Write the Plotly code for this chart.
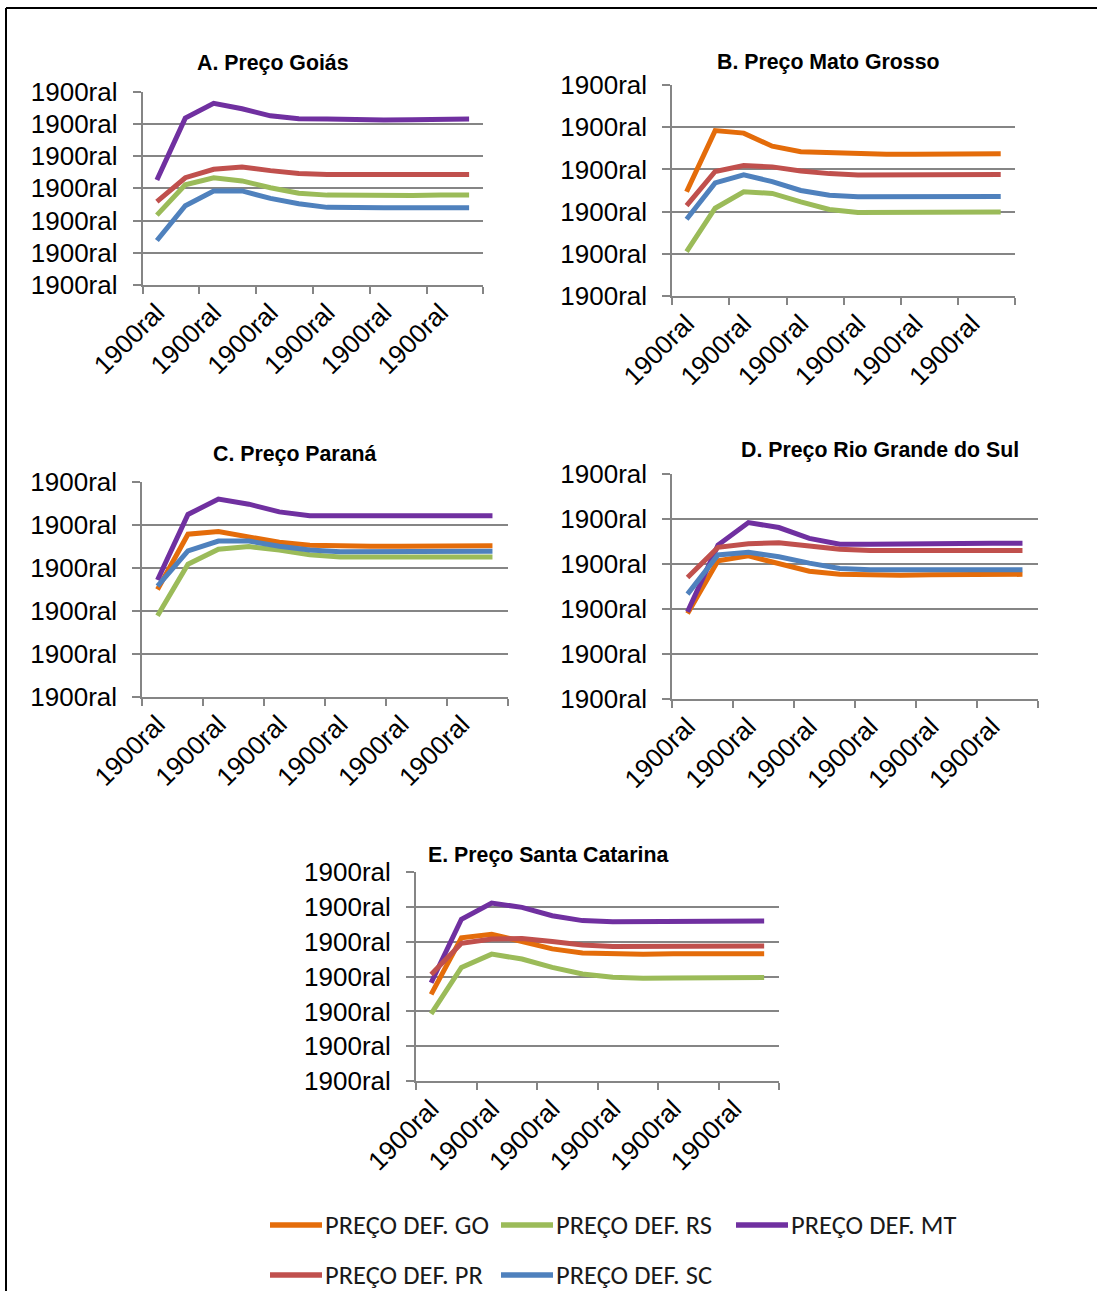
import plotly.graph_objects as go

W, H = 1100, 1291

# Twelve observations per series; the period axis labels every other one
periods = list(range(1, 13))
period_labels = ["1900ral"] * 6
period_label_pos = [1, 3, 5, 7, 9, 11]
price_label = "1900ral"

series_names = {
    "GO": "PREÇO DEF. GO",
    "RS": "PREÇO DEF. RS",
    "MT": "PREÇO DEF. MT",
    "PR": "PREÇO DEF. PR",
    "SC": "PREÇO DEF. SC",
}
series_colors = {
    "GO": "#E46C0A",
    "RS": "#9BBB59",
    "MT": "#7030A0",
    "PR": "#C0504D",
    "SC": "#4F81BD",
}

# A. Goiás
goias_rs = [21.7, 31.1, 33.3, 32.3, 30.2, 28.5, 27.9, 27.8, 27.8, 27.8, 27.9, 27.9]
goias_mt = [32.6, 51.8, 56.4, 54.7, 52.5, 51.6, 51.5, 51.2, 51.2, 51.3, 51.5, 51.5]
goias_pr = [25.9, 33.3, 35.9, 36.6, 35.5, 34.6, 34.3, 34.3, 34.3, 34.3, 34.3, 34.3]
goias_sc = [13.8, 24.6, 29.2, 29.2, 26.9, 25.2, 24.1, 23.9, 24.0, 24.0, 24.0, 24.0]

# B. Mato Grosso
mato_grosso_go = [24.7, 39.2, 38.6, 35.5, 34.2, 34.0, 33.7, 33.6, 33.6, 33.6, 33.7, 33.7]
mato_grosso_rs = [10.5, 20.8, 24.7, 24.3, 22.3, 20.5, 19.8, 19.8, 19.8, 19.9, 19.9, 19.9]
mato_grosso_pr = [21.4, 29.5, 30.9, 30.6, 29.6, 29.0, 28.7, 28.7, 28.7, 28.8, 28.8, 28.8]
mato_grosso_sc = [18.2, 26.8, 28.7, 27.1, 25.0, 23.9, 23.5, 23.5, 23.6, 23.6, 23.6, 23.6]

# C. Paraná
parana_go = [25.0, 37.9, 38.5, 37.2, 36.0, 35.3, 35.1, 35.1, 35.1, 35.2, 35.2, 35.2]
parana_rs = [18.9, 30.9, 34.4, 35.0, 34.2, 33.1, 32.6, 32.6, 32.6, 32.6, 32.6, 32.6]
parana_mt = [27.2, 42.5, 46.1, 44.9, 43.1, 42.2, 42.2, 42.2, 42.1, 42.1, 42.2, 42.2]
parana_sc = [25.8, 34.0, 36.3, 36.3, 35.1, 34.2, 33.8, 33.8, 33.8, 33.9, 33.9, 33.9]

# D. Rio Grande do Sul
rio_grande_go = [19.0, 30.7, 31.8, 30.2, 28.4, 27.7, 27.5, 27.5, 27.6, 27.7, 27.7, 27.7]
rio_grande_mt = [19.4, 34.2, 39.2, 38.1, 35.7, 34.4, 34.4, 34.5, 34.5, 34.5, 34.6, 34.6]
rio_grande_pr = [27.0, 33.7, 34.5, 34.7, 34.0, 33.3, 33.0, 33.0, 33.0, 33.0, 33.0, 33.0]
rio_grande_sc = [23.3, 32.0, 32.6, 31.6, 30.2, 29.0, 28.7, 28.7, 28.7, 28.7, 28.7, 28.7]

# E. Santa Catarina
santa_catarina_go = [24.9, 41.1, 42.1, 40.0, 37.9, 36.7, 36.4, 36.4, 36.5, 36.5, 36.5, 36.5]
santa_catarina_rs = [19.3, 32.6, 36.4, 35.0, 32.6, 30.7, 29.8, 29.5, 29.6, 29.7, 29.7, 29.7]
santa_catarina_mt = [28.2, 46.4, 51.0, 49.8, 47.4, 46.0, 45.7, 45.8, 45.8, 45.9, 45.9, 45.9]
santa_catarina_pr = [30.6, 39.5, 40.7, 40.9, 40.0, 39.0, 38.6, 38.6, 38.6, 38.7, 38.7, 38.7]

# panel layout in page pixels: plot-area left, right, top, bottom; y-axis max
panels = [
    dict(title="A. Preço Goiás", box=(142.7, 483.3, 91.7, 285.0), ymax=60,
         title_xy=(273, 63),
         series={"RS": goias_rs, "MT": goias_mt, "PR": goias_pr, "SC": goias_sc}),
    dict(title="B. Preço Mato Grosso", box=(672.3, 1015.0, 85.0, 296.0), ymax=50,
         title_xy=(828, 62),
         series={"GO": mato_grosso_go, "RS": mato_grosso_rs, "PR": mato_grosso_pr, "SC": mato_grosso_sc}),
    dict(title="C. Preço Paraná", box=(142.3, 507.7, 482.3, 696.7), ymax=50,
         title_xy=(295, 454),
         series={"GO": parana_go, "RS": parana_rs, "MT": parana_mt, "SC": parana_sc}),
    dict(title="D. Preço Rio Grande do Sul", box=(672.3, 1037.7, 474.0, 699.0), ymax=50,
         title_xy=(880, 450),
         series={"GO": rio_grande_go, "MT": rio_grande_mt, "PR": rio_grande_pr, "SC": rio_grande_sc}),
    dict(title="E. Preço Santa Catarina", box=(416.0, 779.3, 871.7, 1081.3), ymax=60,
         title_xy=(548, 855),
         series={"GO": santa_catarina_go, "RS": santa_catarina_rs, "MT": santa_catarina_mt, "PR": santa_catarina_pr}),
]

GRID = "#858585"
TICK_FONT = dict(family="Liberation Sans, Arial, sans-serif", size=26, color="#000000")
TITLE_FONT = dict(family="Liberation Sans, Arial, sans-serif", size=21.3, color="#000000")
LEGEND_FONT = dict(family="Carlito, Lato, sans-serif", size=26.5, color="#1a1a1a")


def px(x):
    return x / W


def py(y):
    return 1 - y / H


fig = go.Figure()
layout = {}
annotations = []
shapes = []

for i, p in enumerate(panels, start=1):
    x0, x1, yt, yb = p["box"]
    xa, ya = f"x{i}", f"y{i}"
    for key in ["GO", "RS", "MT", "PR", "SC"]:
        if key not in p["series"]:
            continue
        fig.add_trace(go.Scatter(
            x=periods, y=p["series"][key], mode="lines", name=series_names[key],
            line=dict(color=series_colors[key], width=5),
            xaxis=xa, yaxis=ya, showlegend=False,
        ))
    yticks = list(range(0, p["ymax"] + 1, 10))
    layout[f"xaxis{i}"] = dict(
        domain=[px(x0), px(x1)], anchor=ya, range=[0.5, 12.5], automargin=False,
        tickmode="array", tickvals=period_label_pos, ticktext=period_labels,
        tickangle=-45, ticks="", tickfont=TICK_FONT,
        showline=True, linecolor=GRID, linewidth=2,
        showgrid=False, zeroline=False, fixedrange=True,
        minor=dict(tickmode="array", tickvals=[v + 0.5 for v in range(0, 13, 2)],
                   ticks="outside", ticklen=7, tickwidth=2, tickcolor=GRID, showgrid=False),
    )
    layout[f"yaxis{i}"] = dict(
        domain=[py(yb), py(yt)], anchor=xa, range=[0, p["ymax"]], automargin=False,
        tickmode="array", tickvals=yticks, ticktext=[price_label] * len(yticks),
        ticks="outside", ticklen=8, tickwidth=2, tickcolor=GRID,
        tickfont=TICK_FONT, ticklabelstandoff=10,
        showgrid=True, gridcolor=GRID, gridwidth=2,
        showline=True, linecolor=GRID, linewidth=2,
        zeroline=False, fixedrange=True,
    )
    tx, ty = p["title_xy"]
    annotations.append(dict(
        text=f"<b>{p['title']}</b>", x=px(tx), y=py(ty), xref="paper", yref="paper",
        xanchor="center", yanchor="middle", showarrow=False, font=TITLE_FONT,
    ))

# legend: two rows of line samples with their series names
legend_rows = [["GO", "RS", "MT"], ["PR", "SC"]]
legend_row_y = [1225, 1275]
legend_col_x = [270, 501, 736]
for row, yrow in zip(legend_rows, legend_row_y):
    for key, xs in zip(row, legend_col_x):
        shapes.append(dict(type="line", xref="paper", yref="paper",
                           x0=px(xs), x1=px(xs + 52), y0=py(yrow), y1=py(yrow),
                           line=dict(color=series_colors[key], width=5.5)))
        annotations.append(dict(
            text=series_names[key], x=px(xs + 53), y=py(yrow), xref="paper", yref="paper",
            xanchor="left", yanchor="middle", showarrow=False, font=LEGEND_FONT,
        ))

# outer frame (top and left edges)
shapes.append(dict(type="line", xref="paper", yref="paper", x0=px(6), x1=px(1097),
                   y0=py(8), y1=py(8), line=dict(color="#000000", width=2)))
shapes.append(dict(type="line", xref="paper", yref="paper", x0=px(6), x1=px(6),
                   y0=py(8), y1=py(1291), line=dict(color="#000000", width=2)))

fig.update_layout(
    width=W, height=H, margin=dict(l=0, r=0, t=0, b=0, autoexpand=False),
    paper_bgcolor="#ffffff", plot_bgcolor="#ffffff",
    showlegend=False, annotations=annotations, shapes=shapes,
    **layout,
)

fig.write_html("out.html")
